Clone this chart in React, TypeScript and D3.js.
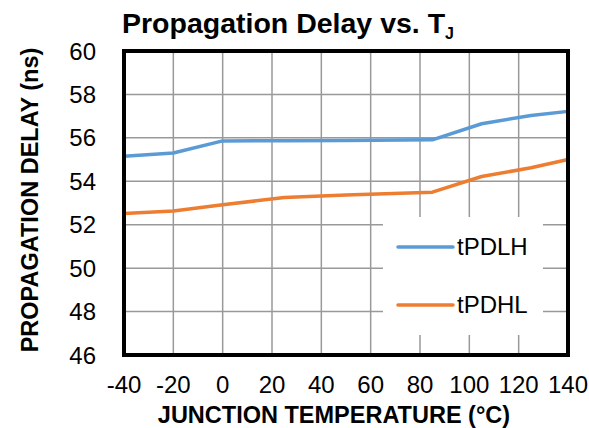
import React from "react";
import * as d3 from "d3";

const temps = [-40, -20, 0, 25, 50, 85, 105, 125, 140];
const tPDLH = [55.15, 55.3, 55.86, 55.87, 55.88, 55.91, 56.65, 57.03, 57.22];
const tPDHL = [52.52, 52.63, 52.92, 53.25, 53.37, 53.5, 54.22, 54.62, 55.0];
const xTicks = [-40, -20, 0, 20, 40, 60, 80, 100, 120, 140];
const yTicks = [46, 48, 50, 52, 54, 56, 58, 60];
const seriesNames = ["tPDLH", "tPDHL"];
const seriesColors = ["#5B9BD5", "#ED7D31"];

const W = 589;
const H = 428;
const L = 124, R = 568, T = 51, B = 355;
const FONT = "'Liberation Sans', Arial, sans-serif";

export default function App() {
  const x = d3.scaleLinear().domain([-40, 140]).range([L, R]);
  const y = d3.scaleLinear().domain([46, 60]).range([B, T]);
  const line = d3
    .line<[number, number]>()
    .x((d) => x(d[0]))
    .y((d) => y(d[1]));
  const series = [tPDLH, tPDHL].map((vals) => temps.map((t, i) => [t, vals[i]] as [number, number]));

  const leg = { x0: 383, x1: 543, y0: 217, y1: 335 };

  return (
    <svg
      width={W}
      height={H}
      style={{ position: "absolute", left: 0, top: 0, background: "#fff" }}
      fontFamily={FONT}
    >
      <rect width={W} height={H} fill="#fff" />
      {/* grid */}
      {xTicks.map((t) => (
        <line key={"gx" + t} x1={x(t)} x2={x(t)} y1={T} y2={B} stroke="#999" strokeWidth={1.5} />
      ))}
      {yTicks.map((t) => (
        <line key={"gy" + t} x1={L} x2={R} y1={y(t)} y2={y(t)} stroke="#999" strokeWidth={1.5} />
      ))}
      {/* legend box */}
      <rect x={leg.x0} y={leg.y0} width={leg.x1 - leg.x0} height={leg.y1 - leg.y0} fill="#fff" />
      {/* series */}
      {series.map((s, i) => (
        <path key={i} d={line(s) || ""} fill="none" stroke={seriesColors[i]} strokeWidth={3.5} strokeLinejoin="round" />
      ))}
      {/* frame */}
      <rect x={L} y={T} width={R - L} height={B - T} fill="none" stroke="#000" strokeWidth={4} />
      {/* legend entries */}
      {seriesNames.map((n, i) => (
        <g key={n}>
          <line x1={398} x2={453} y1={247 + i * 58} y2={247 + i * 58} stroke={seriesColors[i]} strokeWidth={3.5} strokeLinecap="round" />
          <text x={457} y={247 + i * 58 + 8} fontSize={24} fill="#000">
            {n}
          </text>
        </g>
      ))}
      {/* y tick labels */}
      {yTicks.map((t) => (
        <text key={"ly" + t} x={96} y={y(t) + 8.5} fontSize={24} textAnchor="end" fill="#000">
          {t}
        </text>
      ))}
      {/* x tick labels */}
      {xTicks.map((t) => (
        <text key={"lx" + t} x={x(t)} y={392.5} fontSize={24} textAnchor="middle" fill="#000">
          {t}
        </text>
      ))}
      {/* axis titles */}
      <text x={334} y={423} fontSize={23.5} fontWeight="bold" textAnchor="middle" fill="#000">
        JUNCTION TEMPERATURE (°C)
      </text>
      <text
        transform={`translate(38,200) rotate(-90)`}
        fontSize={23.5}
        fontWeight="bold"
        textAnchor="middle"
        fill="#000"
      >
        PROPAGATION DELAY (ns)
      </text>
      {/* title */}
      <text x={122} y={33} fontSize={28.5} fontWeight="bold" fill="#000">
        Propagation Delay vs. T
        <tspan fontSize={16} dy={6}>J</tspan>
      </text>
    </svg>
  );
}
